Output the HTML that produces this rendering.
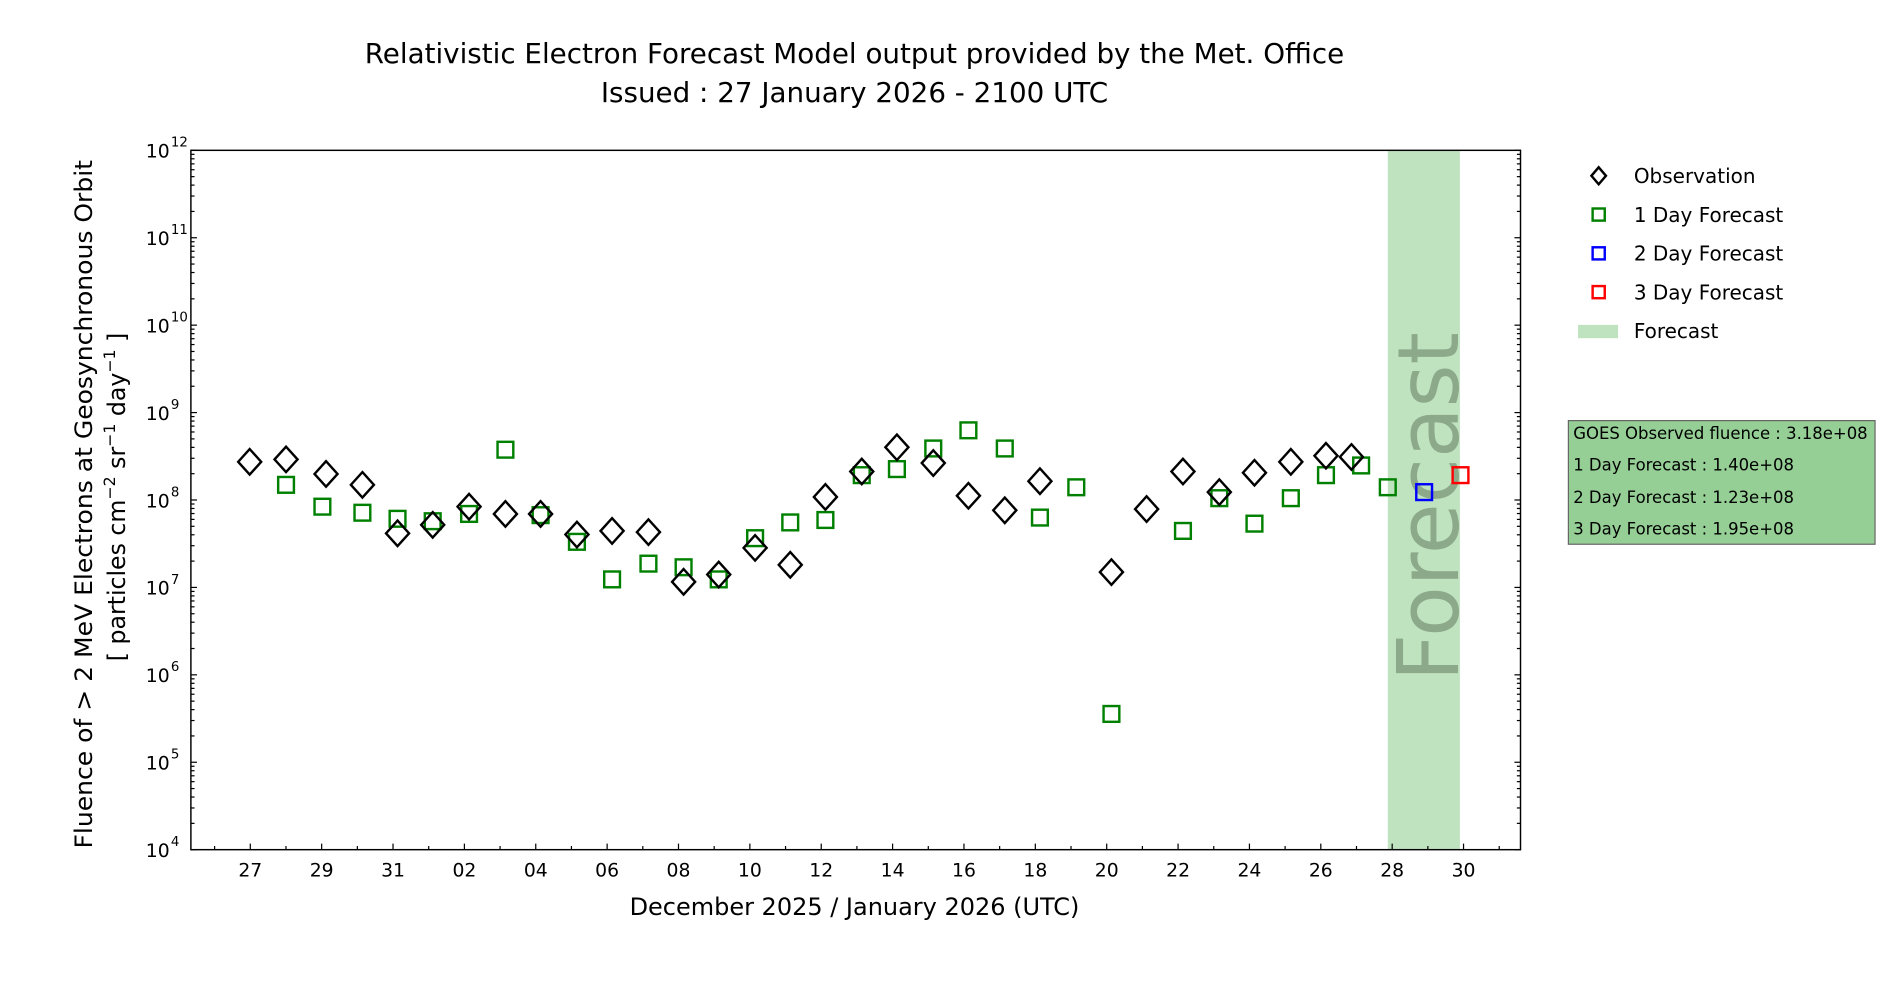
<!DOCTYPE html>
<html><head><meta charset="utf-8"><style>html,body{margin:0;padding:0;background:#fff;}svg{display:block;}</style></head>
<body>
<svg id="s" xmlns="http://www.w3.org/2000/svg" width="1900" height="1000" viewBox="0 0 1567.6 825" font-family="DejaVu Sans, Liberation Sans, sans-serif">
<rect x="0" y="0" width="1567.6" height="825" fill="#fff"/>
<rect x="1145" y="124" width="59.5" height="577" fill="#bfe3bf"/>
<text transform="translate(1203,418) rotate(-90)" text-anchor="middle" font-size="70" fill="#7f9a7d" fill-opacity="0.8" textLength="288" lengthAdjust="spacingAndGlyphs">Forecast</text>
<g id="g"></g>
<rect x="157.5" y="124" width="1097" height="577" fill="none" stroke="#000" stroke-width="1.2"/>
<text x="705" y="52" text-anchor="middle" font-size="22.9">Relativistic Electron Forecast Model output provided by the Met. Office</text>
<text x="705" y="84" text-anchor="middle" font-size="22.9">Issued : 27 January 2026 - 2100 UTC</text>
<text x="705" y="755" text-anchor="middle" font-size="19.8">December 2025 / January 2026 (UTC)</text>
<text transform="translate(76,416) rotate(-90)" text-anchor="middle" font-size="19.5" textLength="568" lengthAdjust="spacingAndGlyphs">Fluence of &gt; 2 MeV Electrons at Geosynchronous Orbit</text>
<text transform="translate(103,410) rotate(-90)" text-anchor="middle" font-size="19.5">[ particles cm<tspan font-size="13" dy="-8">−2</tspan><tspan dy="8"> sr</tspan><tspan font-size="13" dy="-8">−1</tspan><tspan dy="8"> day</tspan><tspan font-size="13" dy="-8">−1</tspan><tspan dy="8"> ]</tspan></text>
<g font-size="16.5">
<path d="M1319,138 l6,7 l-6,7 l-6,-7z" fill="none" stroke="#000" stroke-width="2"/>
<text x="1348" y="151">Observation</text>
<rect x="1314" y="172" width="10" height="10" fill="none" stroke="#008000" stroke-width="2"/>
<text x="1348" y="183">1 Day Forecast</text>
<rect x="1314" y="204" width="10" height="10" fill="none" stroke="#0000ff" stroke-width="2"/>
<text x="1348" y="215">2 Day Forecast</text>
<rect x="1314" y="236" width="10" height="10" fill="none" stroke="#ff0000" stroke-width="2"/>
<text x="1348" y="247">3 Day Forecast</text>
<rect x="1302" y="268" width="33" height="11" fill="#bfe3bf"/>
<text x="1348" y="279">Forecast</text>
</g>
<rect x="1294" y="347" width="253" height="102" fill="#95cf95" stroke="#666" stroke-width="1"/>
<g font-size="13.6">
<text x="1298" y="362">GOES Observed fluence : 3.18e+08</text>
<text x="1298" y="388">1 Day Forecast : 1.40e+08</text>
<text x="1298" y="415">2 Day Forecast : 1.23e+08</text>
<text x="1298" y="441">3 Day Forecast : 1.95e+08</text>
</g>
</svg>
<script>
var g=document.getElementById('g'),h='';
var L=157.5,R=1254.5,T=124,B=701,dec=(B-T)/8;
function ln(x1,y1,x2,y2,c){h+='<line x1="'+x1+'" y1="'+y1+'" x2="'+x2+'" y2="'+y2+'" stroke="'+(c||'#000')+'" stroke-width="1"/>';}
for(var e=4;e<=12;e++){var y=B-(e-4)*dec;ln(L,y,L+5,y);ln(R,y,R-5,y);
h+='<text x="140" y="'+(y+6)+'" text-anchor="end" font-size="15.5">10</text><text x="141" y="'+(y-3)+'" font-size="11">'+e+'</text>';
if(e<12)for(var m=2;m<10;m++){var yy=y-Math.log10(m)*dec;ln(L,yy,L+3,yy);ln(R,yy,R-3,yy);}}
var x0=206.5,dx=(1207.5-206.5)/34;
var labs=['27','29','31','02','04','06','08','10','12','14','16','18','20','22','24','26','28','30'];
for(var d=-1;d<=35;d++){var x=x0+d*dx;if(x<L||x>R)continue;if(d%2==0){ln(x,B,x,B-5);h+='<text x="'+x+'" y="723" text-anchor="middle" font-size="15.5">'+labs[d/2]+'</text>';}else ln(x,B,x,B-3);}
var ob=[[206,381],[236,379],[269,391],[299,400],[328,440],[357,433],[387,418],[417,424],[446,424],[476,441],[505,438],[535,439],[564,480],[593,474],[623,452],[652,466],[681,410],[711,389],[740,369],[770,382],[799,409],[829,421],[858,397],[917,472],[946,420],[976,389],[1006,406],[1035,390],[1065,381],[1094,376],[1115,377]];
var f1=[[236,400],[266,418],[299,423],[328,428],[357,430],[387,424],[417,371],[446,425],[476,447],[505,478],[535,465],[564,468],[593,478],[623,444],[652,431],[681,429],[711,392],[740,387],[770,370],[799,355],[829,370],[858,427],[888,402],[917,589],[976,438],[1006,411],[1035,432],[1065,411],[1094,392],[1123,384],[1145,402]];
function sq(p,c){h+='<rect x="'+(p[0]-6.5)+'" y="'+(p[1]-6.5)+'" width="13" height="13" fill="none" stroke="'+c+'" stroke-width="2"/>';}
f1.forEach(function(p){sq(p,'#008000');});
sq([1175,406],'#0000ff');sq([1205,392],'#ff0000');
ob.forEach(function(p){h+='<path d="M'+p[0]+','+(p[1]-10.5)+' l9.5,10.5 l-9.5,10.5 l-9.5,-10.5z" fill="none" stroke="#000" stroke-width="2"/>';});
g.innerHTML=h;
</script>
</body></html>
